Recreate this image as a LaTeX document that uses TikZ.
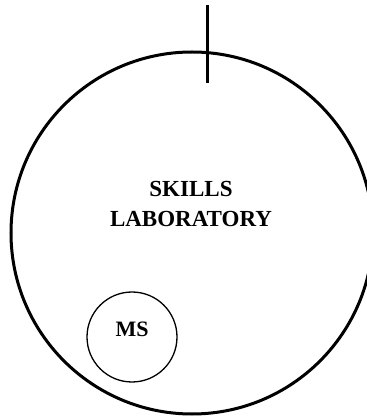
\documentclass[tikz,border=0pt]{standalone}
\usepackage{fontspec}
\setmainfont{Liberation Serif}
\begin{document}
\begin{tikzpicture}[x=1pt,y=1pt,
  bigring/.style={circle,draw=black,line width=3pt,inner sep=0pt,minimum size=362pt},
  smallring/.style={circle,draw=black,line width=1.3pt,inner sep=0pt,minimum size=90pt},
  label/.style={font=\bfseries\fontsize{23}{28}\selectfont,anchor=base,inner sep=0pt},
  tick/.style={line width=3pt}]
\useasboundingbox (0,0) rectangle (367,418);
\clip (0,0) rectangle (367,418);
\node[bigring] (lab) at (192,185) {};
\node[smallring] (ms) at (132,81) {};
\node[label] (t1) at (191,221) {SKILLS};
\node[label] (t2) at (191,191) {LABORATORY};
\node[label,font=\bfseries\fontsize{22}{27}\selectfont] (mst) at (132,81) {MS};
\coordinate (ttop) at (207,413);
\coordinate (tbot) at (207,335);
\draw[tick] (ttop) -- (tbot);
\end{tikzpicture}
\end{document}
